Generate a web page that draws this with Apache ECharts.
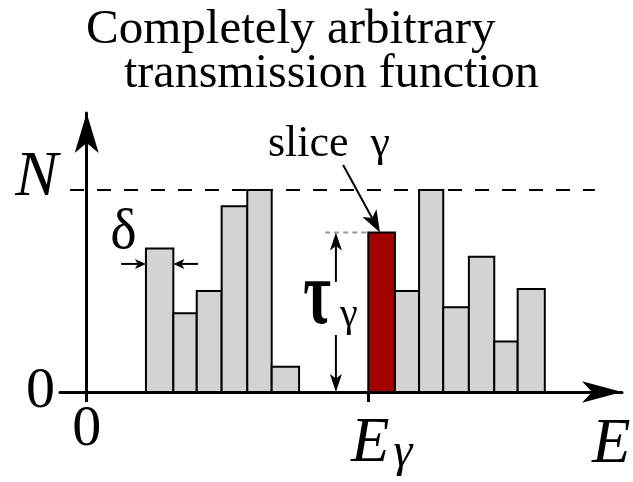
<!DOCTYPE html>
<html>
<head>
<meta charset="utf-8">
<script src="https://cdn.jsdelivr.net/npm/echarts@6/dist/echarts.min.js"></script>
<style>
html,body{margin:0;padding:0;background:#fff;}
#chart{width:633px;height:482px;}
</style>
</head>
<body>
<div id="chart"></div>
<script>
// ---- data (arbitrary energy units, N = 1) ----
const titleLines = ['Completely arbitrary', 'transmission function'];
const sliceLo = [2.38, 3.48, 4.42, 5.42, 6.45, 7.43, 11.31, 12.38, 13.35, 14.32, 15.35, 16.37, 17.31];
const sliceHi = [3.48, 4.42, 5.42, 6.45, 7.43, 8.53, 12.38, 13.35, 14.32, 15.35, 16.37, 17.31, 18.40];
const transmission = [0.71, 0.39, 0.50, 0.92, 1.00, 0.125, 0.79, 0.50, 1.00, 0.42, 0.67, 0.25, 0.51];
const gammaIndex = 6;
const levelN = 1;
const yTickLabels = ['0', 'N'];
const xTickLabels = ['0', 'E', 'γ'];
const axisName = 'E';

// ---- styling ----
const SERIF = '"Liberation Serif", "Times New Roman", serif';
const INK = '#000';
const GRAY = '#d3d3d3';
const RED = '#a30000';

const tauGamma = transmission[gammaIndex];
const eGamma = sliceLo[gammaIndex];

const notes = [
  { text: 'δ', at: [1.478, 0.787], size: 56, align: 'center' },
  { text: 'slice  γ', at: [7.28, 1.223], size: 44, align: 'left' },
  { text: 'τ', at: [9.25, 0.457], size: 60, weight: 'bold', align: 'center', sy: 1.5 },
  { text: 'γ', at: [10.53, 0.381], size: 40, align: 'center' }
];

const arrows = [
  { from: [1.38, 0.634], to: [sliceLo[0], 0.634], head: [11, 10] },
  { from: [4.47, 0.634], to: [sliceHi[0], 0.634], head: [11, 10] },
  { from: [10.01, 0.545], to: [10.01, tauGamma], head: [18, 12] },
  { from: [10.01, 0.282], to: [10.01, 0.0], head: [18, 12] },
  { from: [10.30, 1.124], to: [11.78, tauGamma], head: [22, 16] }
];

const chart = echarts.init(document.getElementById('chart'), null, { renderer: 'canvas' });

function barItem(params, api) {
  const lo = api.value(0), hi = api.value(1), h = api.value(2);
  const p0 = api.coord([lo, h]);
  const p1 = api.coord([hi, 0]);
  return {
    type: 'rect',
    shape: { x: p0[0], y: p0[1], width: p1[0] - p0[0], height: p1[1] - p0[1] },
    style: { fill: params.dataIndex === gammaIndex ? RED : GRAY, stroke: INK, lineWidth: 2 }
  };
}

function arrowItem(params, api) {
  const spec = arrows[params.dataIndex];
  const a = api.coord([api.value(0), api.value(1)]);
  const b = api.coord([api.value(2), api.value(3)]);
  const hl = spec.head[0], hw = spec.head[1];
  const dx = b[0] - a[0], dy = b[1] - a[1];
  const L = Math.hypot(dx, dy) || 1;
  const ux = dx / L, uy = dy / L;
  const nx = -uy, ny = ux;
  const bx = b[0] - ux * hl, by = b[1] - uy * hl;
  const mx = b[0] - ux * hl * 0.75, my = b[1] - uy * hl * 0.75;
  return {
    type: 'group',
    children: [
      { type: 'line', shape: { x1: a[0], y1: a[1], x2: mx, y2: my }, style: { stroke: INK, lineWidth: 2 } },
      { type: 'polygon', shape: { points: [[b[0], b[1]], [bx + nx * hw / 2, by + ny * hw / 2], [mx, my], [bx - nx * hw / 2, by - ny * hw / 2]] }, style: { fill: INK } }
    ]
  };
}

function noteItem(params, api) {
  const n = notes[params.dataIndex];
  const p = api.coord([api.value(0), api.value(1)]);
  return {
    type: 'text',
    x: p[0], y: p[1],
    scaleY: n.sy || 1,
    style: {
      text: n.text, fontFamily: SERIF, fontSize: n.size,
      fontWeight: n.weight || 'normal', fontStyle: n.italic ? 'italic' : 'normal',
      fill: INK, align: n.align, verticalAlign: 'middle'
    }
  };
}

const option = {
  animation: false,
  backgroundColor: '#fff',
  title: [
    { text: titleLines[0], left: 86, top: 6, padding: 0,
      textStyle: { fontFamily: SERIF, fontSize: 49, fontWeight: 'normal', color: INK } },
    { text: titleLines[1], left: 124, top: 50, padding: 0,
      textStyle: { fontFamily: SERIF, fontSize: 48, fontWeight: 'normal', color: INK } }
  ],
  grid: { left: 60, right: 11, top: 113, bottom: 90, containLabel: false, outerBoundsMode: 'none' },
  xAxis: {
    type: 'value', min: -1.072, max: 21.5,
    splitLine: { show: false },
    axisLine: { show: true, onZero: true, symbol: ['none', 'arrow'], symbolSize: [16, 40],
      lineStyle: { color: INK, width: 3 } },
    axisTick: { show: true, customValues: [0, eGamma], length: 10, inside: false,
      lineStyle: { color: INK, width: 3 } },
    axisLabel: {
      show: true, customValues: [0, eGamma], margin: 9, color: INK, fontFamily: SERIF,
      formatter: v => v === 0 ? '{z|' + xTickLabels[0] + '}' : '{e|' + xTickLabels[1] + '}{s|' + xTickLabels[2] + '}',
      rich: {
        z: { fontFamily: SERIF, fontSize: 58, color: INK },
        e: { fontFamily: SERIF, fontSize: 63, fontStyle: 'italic', color: INK, padding: [11, 0, 0, 27] },
        s: { fontFamily: SERIF, fontSize: 48, fontStyle: 'italic', color: INK, padding: [28, 0, 0, 4] }
      }
    },
    name: axisName, nameLocation: 'end', nameGap: -30, nameMoveOverlap: false,
    nameTextStyle: { fontFamily: SERIF, fontStyle: 'italic', fontSize: 63, color: INK,
      align: 'left', verticalAlign: 'top', lineHeight: 107 }
  },
  yAxis: {
    type: 'value', min: 0, max: 1.381,
    splitLine: { show: false },
    axisLine: { show: true, onZero: true, symbol: ['none', 'arrow'], symbolSize: [18, 40],
      lineStyle: { color: INK, width: 3 } },
    axisTick: { show: false },
    axisLabel: {
      show: true, customValues: [0, levelN], margin: 2, color: INK, fontFamily: SERIF,
      formatter: v => v === 0 ? '{z|' + yTickLabels[0] + '}' : '{n|' + yTickLabels[1] + '}',
      rich: {
        z: { fontFamily: SERIF, fontSize: 58, color: INK, padding: [0, 3, 0, 0] },
        n: { fontFamily: SERIF, fontSize: 64, fontStyle: 'italic', color: INK, padding: [0, 0, 23, 0] }
      }
    }
  },
  series: [
    {
      type: 'line', silent: true, symbol: 'none', z: 1,
      data: [[-0.67, levelN], [20.41, levelN]],
      lineStyle: { color: INK, width: 2, type: [14, 13] }
    },
    {
      type: 'line', silent: true, symbol: 'none', z: 1,
      data: [[9.58, tauGamma], [eGamma, tauGamma]],
      lineStyle: { color: '#9a9a9a', width: 2, type: [5, 4] }
    },
    {
      type: 'custom', silent: true, z: 3, clip: false,
      renderItem: barItem,
      encode: { x: [0, 1], y: 2 },
      data: sliceLo.map((lo, i) => [lo, sliceHi[i], transmission[i]])
    },
    {
      type: 'custom', silent: true, z: 5, clip: false,
      renderItem: arrowItem,
      data: arrows.map(a => [a.from[0], a.from[1], a.to[0], a.to[1]])
    },
    {
      type: 'custom', silent: true, z: 6, clip: false,
      renderItem: noteItem,
      data: notes.map(n => n.at)
    }
  ]
};
chart.setOption(option);
</script>
</body>
</html>
